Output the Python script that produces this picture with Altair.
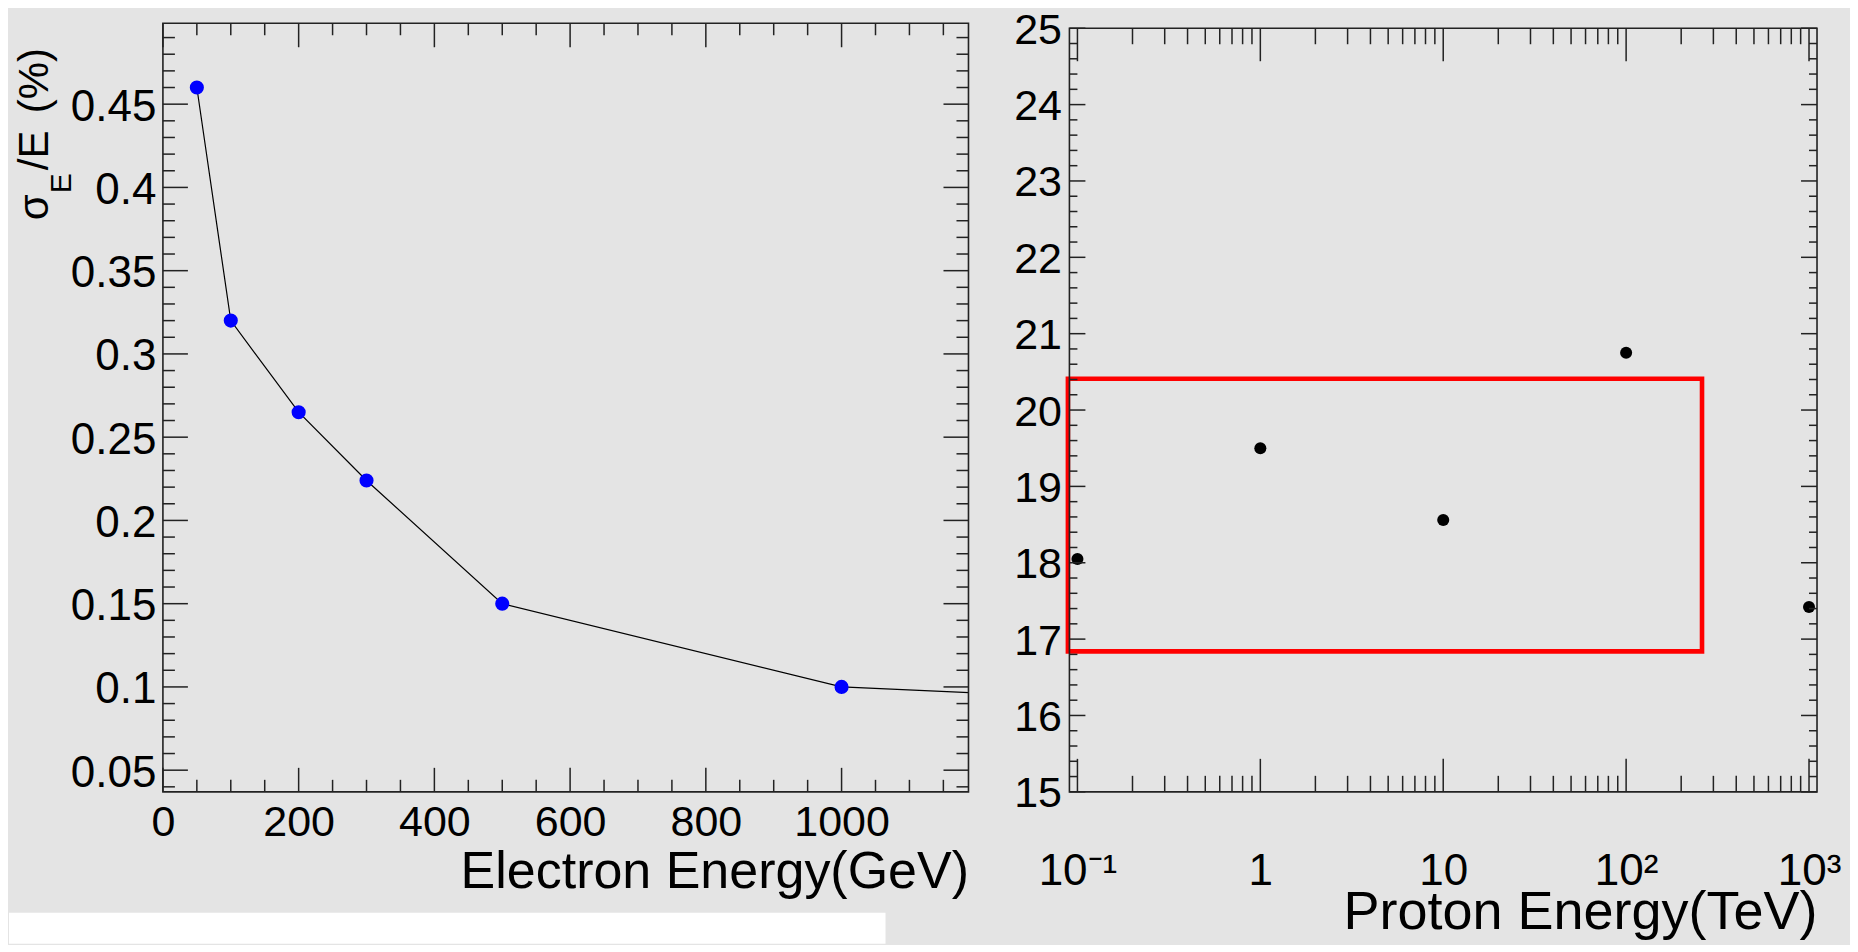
import math
import altair as alt
import pandas as pd

# ---------------- data ----------------
electron_energy = [50, 100, 200, 300, 500, 1000, 2000]
electron_resolution = [0.46, 0.32, 0.265, 0.224, 0.150, 0.100, 0.082]

proton_energy = [0.1, 1, 10, 100, 1000]
proton_resolution = [18.05, 19.50, 18.56, 20.75, 17.42]

# highlighted region (red box) in data coordinates
box_energy = [0.0887, 260]
box_resolution = [16.84, 20.41]

left_x_ticks = [0, 200, 400, 600, 800, 1000]
left_y_ticks = [0.05, 0.1, 0.15, 0.2, 0.25, 0.3, 0.35, 0.4, 0.45]
right_x_ticks = [0.1, 1, 10, 100, 1000]
right_x_labels = ["10⁻¹", "1", "10", "10²", "10³"]
right_y_ticks = [15, 16, 17, 18, 19, 20, 21, 22, 23, 24, 25]

left_x_title = "Electron Energy(GeV)"
right_x_title = "Proton Energy(TeV)"

# ---------------- layout / style ----------------
BG = "#e4e4e4"
INK = "#222222"
FONT = "Liberation Sans"

LX = [0, 1187]
LY = [0.037, 0.4986]
RX = [0.0904, 1106]
RY = [15, 25.0654]
LW, LH = 806, 769
RW, RH = 748, 769
SPACING = 101
R_TOP = RH * (RY[1] - right_y_ticks[-1]) / (RY[1] - RY[0])

xs_l = alt.Scale(domain=LX, nice=False, zero=False)
ys_l = alt.Scale(domain=LY, nice=False, zero=False)
xs_r = alt.Scale(type="log", domain=RX, nice=False)
ys_r = alt.Scale(domain=RY, nice=False, zero=False)

one = pd.DataFrame({"k": [0]})

lx_minor = [v for v in range(50, 1187, 50) if v % 200 != 0]
ly_minor = [round(0.04 + 0.01 * i, 2) for i in range(0, 46) if (4 + i) % 5 != 0]
rx_minor = [m * 10.0 ** e for e in range(-1, 3) for m in range(2, 10)]
ry_minor = [round(15 + 0.2 * i, 1) for i in range(1, 50) if i % 5 != 0]

common_axis = dict(ticks=False, tickSize=0, domain=False, grid=False, zindex=1,
                   labelFont=FONT, labelColor="black", labelOverlap=False,
                   labelFlush=False, labelBound=False, titleFont=FONT,
                   titleColor="black", titleFontWeight="normal")

ax_lx = alt.Axis(values=left_x_ticks, format="d", labelFontSize=43, labelPadding=44,
                 labelBaseline="alphabetic", labelAngle=0, title=left_x_title,
                 titleFontSize=52, titleX=LW, titleY=96, titleAlign="right",
                 titleAnchor="end", titleBaseline="alphabetic", titleAngle=0, **common_axis)
ax_ly = alt.Axis(values=left_y_ticks, format="~g", labelFontSize=44, labelPadding=7,
                 labelBaseline="alphabetic", labelOffset=16, title="", **common_axis)
label_list = "[" + ",".join("'" + s + "'" for s in right_x_labels) + "]"
ax_rx = alt.Axis(values=right_x_ticks,
                 labelExpr=label_list + "[round(log(datum.value)/LN10)+1]",
                 labelFontSize=44, labelPadding=93, labelBaseline="alphabetic", labelAngle=0,
                 title=right_x_title, titleFontSize=54, titleX=RW, titleY=137,
                 titleAlign="right", titleAnchor="end", titleBaseline="alphabetic",
                 titleAngle=0, **common_axis)
ax_ry = alt.Axis(values=right_y_ticks, format="d", labelFontSize=43, labelPadding=8,
                 labelBaseline="alphabetic", labelOffset=15, title="", **common_axis)


def vticks(values, scale, axis, y0, y1):
    return alt.Chart(pd.DataFrame({"E": values})).mark_rule(
        color=INK, strokeWidth=1.5
    ).encode(x=alt.X("E:Q", scale=scale, axis=axis), y=alt.value(y0), y2=alt.value(y1))


def hticks(values, scale, axis, x0, x1):
    return alt.Chart(pd.DataFrame({"R": values})).mark_rule(
        color=INK, strokeWidth=1.5
    ).encode(y=alt.Y("R:Q", scale=scale, axis=axis), x=alt.value(x0), x2=alt.value(x1))


def label_text(txt, x, y, size):
    return alt.Chart(one).mark_text(
        angle=270, align="left", baseline="alphabetic", font=FONT,
        fontSize=size, color="black"
    ).encode(x=alt.value(x), y=alt.value(y), text=alt.value(txt))


# ---------------- left panel ----------------
canvas = alt.Chart(one).mark_rect(color=BG).encode(
    x=alt.value(-154), x2=alt.value(1687), y=alt.value(-14), y2=alt.value(921))
whitebox = alt.Chart(one).mark_rect(color="white").encode(
    x=alt.value(-154), x2=alt.value(723), y=alt.value(890), y2=alt.value(921))

df_e = pd.DataFrame({"E": electron_energy, "R": electron_resolution})
line_l = alt.Chart(df_e).mark_line(color="black", strokeWidth=1.2, clip=True).encode(
    x=alt.X("E:Q", scale=xs_l, axis=ax_lx), y=alt.Y("R:Q", scale=ys_l, axis=ax_ly))
pts_l = alt.Chart(df_e).mark_circle(size=200, color="#0000ff", opacity=1, clip=True).encode(
    x=alt.X("E:Q", scale=xs_l, axis=ax_lx), y=alt.Y("R:Q", scale=ys_l, axis=ax_ly))
frame_l = alt.Chart(one).mark_rect(fill="transparent", stroke=INK, strokeWidth=1.6).encode(
    x=alt.value(0), x2=alt.value(LW), y=alt.value(0), y2=alt.value(LH))

left = alt.layer(
    canvas, whitebox, line_l, pts_l, frame_l,
    vticks(left_x_ticks, xs_l, ax_lx, LH, LH - 24), vticks(lx_minor, xs_l, ax_lx, LH, LH - 12),
    vticks(left_x_ticks, xs_l, ax_lx, 0, 24), vticks(lx_minor, xs_l, ax_lx, 0, 12),
    hticks(left_y_ticks, ys_l, ax_ly, 0, 25), hticks(ly_minor, ys_l, ax_ly, 0, 12),
    hticks(left_y_ticks, ys_l, ax_ly, LW, LW - 25), hticks(ly_minor, ys_l, ax_ly, LW, LW - 12),
    label_text("σ", -115, 197, 42),
    label_text("E", -92, 170, 30),
    label_text("/E", -115, 147, 42),
    label_text("(%)", -115, 90, 42),
).properties(width=LW, height=LH)

# ---------------- right panel ----------------
df_p = pd.DataFrame({"E": proton_energy, "R": proton_resolution})
df_box = pd.DataFrame({"E": [box_energy[0]], "E2": [box_energy[1]],
                       "R": [box_resolution[0]], "R2": [box_resolution[1]]})

pts_r = alt.Chart(df_p).mark_circle(size=145, color="black", opacity=1).encode(
    x=alt.X("E:Q", scale=xs_r, axis=ax_rx), y=alt.Y("R:Q", scale=ys_r, axis=ax_ry))
box = alt.Chart(df_box).mark_rect(fill="transparent", stroke="#ff0000", strokeWidth=4.6).encode(
    x=alt.X("E:Q", scale=xs_r, axis=ax_rx), x2="E2:Q",
    y=alt.Y("R:Q", scale=ys_r, axis=ax_ry), y2="R2:Q")
frame_r = alt.Chart(one).mark_rect(fill="transparent", stroke=INK, strokeWidth=1.6).encode(
    x=alt.value(0), x2=alt.value(RW), y=alt.value(R_TOP), y2=alt.value(RH))

right = alt.layer(
    box, pts_r, frame_r,
    vticks(right_x_ticks, xs_r, ax_rx, RH, RH - 33), vticks(rx_minor, xs_r, ax_rx, RH, RH - 16),
    vticks(right_x_ticks, xs_r, ax_rx, R_TOP, R_TOP + 33),
    vticks(rx_minor, xs_r, ax_rx, R_TOP, R_TOP + 16),
    hticks(right_y_ticks, ys_r, ax_ry, 0, 16), hticks(ry_minor, ys_r, ax_ry, 0, 8),
    hticks(right_y_ticks, ys_r, ax_ry, RW, RW - 16), hticks(ry_minor, ys_r, ax_ry, RW, RW - 8),
).properties(width=RW, height=RH)

chart = alt.hconcat(left, right, spacing=SPACING, bounds="flush").properties(
    padding=0, background=BG
).configure_view(stroke="transparent")

chart.save("out.html", embed_options={"renderer": "svg", "actions": False})
